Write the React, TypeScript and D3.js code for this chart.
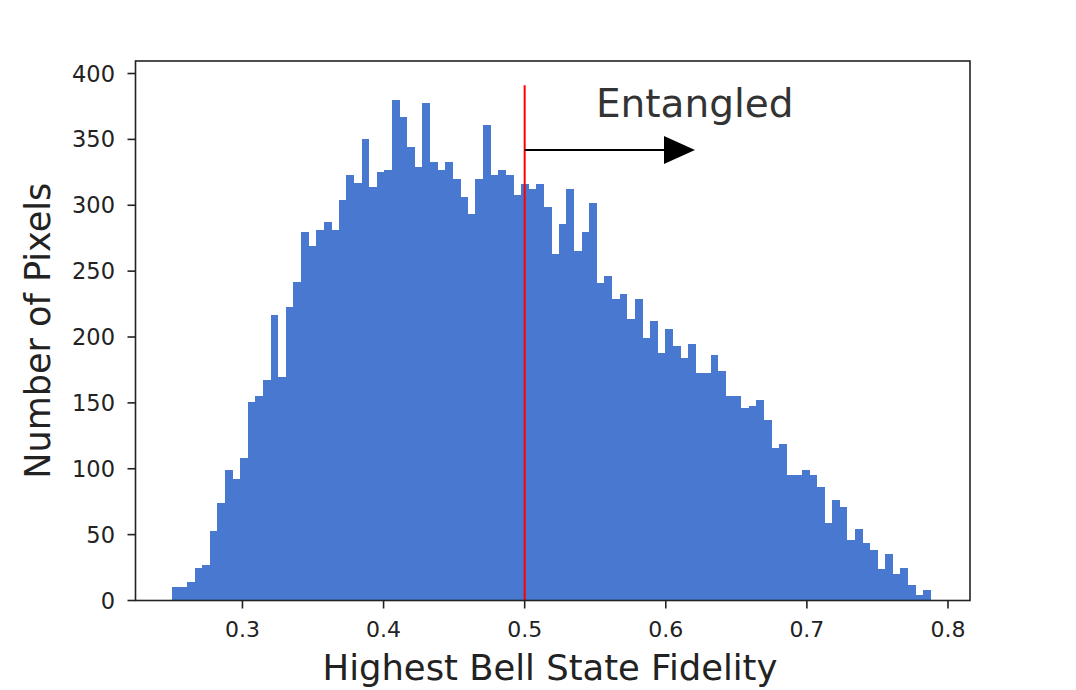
import React from "react";
import * as d3 from "d3";

// ---- data ----
const counts: number[] = [
  10, 10, 14, 25, 27, 53, 74, 99, 92, 108,
  151, 155, 167, 217, 170, 223, 242, 280, 269, 281,
  287, 281, 304, 323, 317, 350, 314, 325, 327, 380,
  367, 344, 329, 378, 333, 327, 333, 320, 306, 293,
  320, 361, 323, 327, 323, 308, 316, 312, 316, 299,
  263, 286, 312, 265, 280, 302, 241, 246, 229, 233,
  214, 229, 199, 212, 188, 206, 193, 184, 195, 173,
  173, 186, 174, 155, 155, 146, 148, 152, 137, 116,
  119, 95, 95, 99, 95, 86, 59, 76, 71, 46,
  54, 44, 38, 24, 35, 20, 25, 12, 4, 8,
];
const binRange: [number, number] = [0.25, 0.7877];
const xTicks: number[] = [0.3, 0.4, 0.5, 0.6, 0.7, 0.8];
const yTicks: number[] = [0, 50, 100, 150, 200, 250, 300, 350, 400];
const xDomain: [number, number] = [0.2242, 0.8156];
const yDomain: [number, number] = [0, 409.5];
const threshold = 0.5;
const thresholdTop = 391;
const arrowFrom: [number, number] = [0.5, 342];
const arrowTo: [number, number] = [0.6207, 342];
const annotationText = "Entangled";
const annotationPos: [number, number] = [0.5505, 367];
const xLabel = "Highest Bell State Fidelity";
const yLabel = "Number of Pixels";

// ---- layout ----
const W = 1076;
const H = 690;
const plot = { left: 135.5, right: 970, top: 61, bottom: 600.5 };
const font = "'DejaVu Sans', sans-serif";
const ink = "#222";
const barColor = "#4878cf";

export default function App() {
  const x = d3.scaleLinear().domain(xDomain).range([plot.left, plot.right]);
  const y = d3.scaleLinear().domain(yDomain).range([plot.bottom, plot.top]);
  const n = counts.length;
  const bw = (binRange[1] - binRange[0]) / n;
  const bins = counts.map((c, i) => ({
    x0: binRange[0] + i * bw,
    x1: binRange[0] + (i + 1) * bw,
    c,
  }));

  const ax0 = x(arrowFrom[0]);
  const ay = y(arrowFrom[1]);
  const tipX = x(arrowTo[0]);
  const headLen = 31;
  const headHalf = 14;

  return (
    <svg
      width={W}
      height={H}
      style={{ position: "absolute", left: 0, top: 0, background: "#fff" }}
    >
      <rect x={0} y={0} width={W} height={H} fill="#fff" />
      {/* bars */}
      <g shapeRendering="crispEdges">
        {bins.map((b, i) => (
          <rect
            key={i}
            x={x(b.x0)}
            y={y(b.c)}
            width={x(b.x1) - x(b.x0) + 0.3}
            height={y(0) - y(b.c)}
            fill={barColor}
          />
        ))}
      </g>
      {/* threshold line */}
      <line
        x1={x(threshold)}
        x2={x(threshold)}
        y1={y(0)}
        y2={y(thresholdTop)}
        stroke="#ff0000"
        strokeWidth={2}
      />
      {/* arrow */}
      <line x1={ax0} x2={tipX - headLen + 2} y1={ay} y2={ay} stroke="#000" strokeWidth={2} />
      <path
        d={`M${tipX - headLen},${ay - headHalf} L${tipX},${ay} L${tipX - headLen},${ay + headHalf} Z`}
        fill="#000"
      />
      <text
        x={x(annotationPos[0])}
        y={y(annotationPos[1])}
        fontFamily={font}
        fontSize={39}
        fill="#333"
      >
        {annotationText}
      </text>
      {/* spines */}
      <rect
        x={plot.left}
        y={plot.top}
        width={plot.right - plot.left}
        height={plot.bottom - plot.top}
        fill="none"
        stroke={ink}
        strokeWidth={1.6}
      />
      {/* x ticks */}
      {xTicks.map((t) => (
        <g key={t}>
          <line x1={x(t)} x2={x(t)} y1={plot.bottom} y2={plot.bottom + 8} stroke={ink} strokeWidth={1.6} />
          <text x={x(t)} y={636.5} textAnchor="middle" fontFamily={font} fontSize={22} fill={ink}>
            {d3.format(".1f")(t)}
          </text>
        </g>
      ))}
      {/* y ticks */}
      {yTicks.map((t) => (
        <g key={t}>
          <line x1={plot.left - 8} x2={plot.left} y1={y(t)} y2={y(t)} stroke={ink} strokeWidth={1.6} />
          <text x={115} y={y(t) + 8} textAnchor="end" fontFamily={font} fontSize={22.5} fill={ink}>
            {t}
          </text>
        </g>
      ))}
      {/* axis labels */}
      <text
        x={550}
        y={680}
        textAnchor="middle"
        fontFamily={font}
        fontSize={35.4}
        fill={ink}
      >
        {xLabel}
      </text>
      <text
        transform={`translate(50,${(plot.top + plot.bottom) / 2}) rotate(-90)`}
        textAnchor="middle"
        fontFamily={font}
        fontSize={35}
        fill={ink}
      >
        {yLabel}
      </text>
    </svg>
  );
}
